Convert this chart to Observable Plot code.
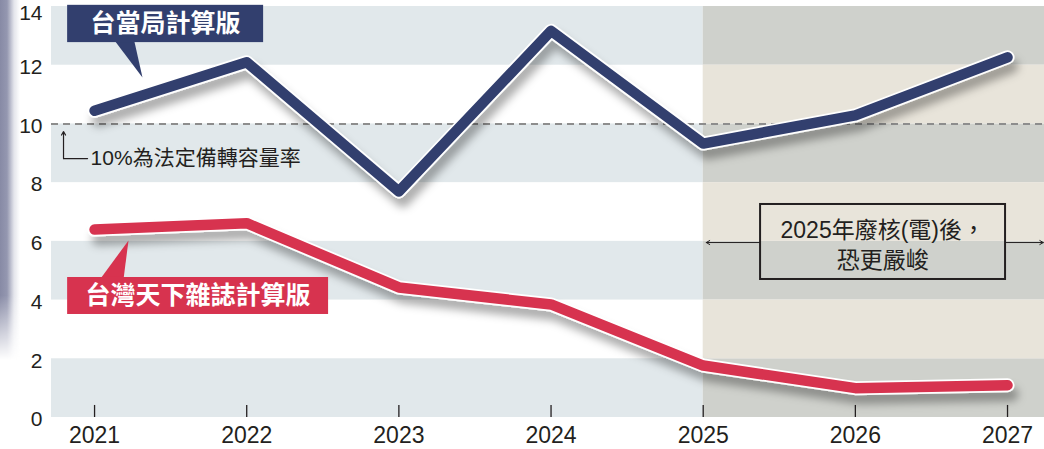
<!DOCTYPE html>
<html>
<head>
<meta charset="utf-8">
<script src="https://cdn.jsdelivr.net/npm/d3@7"></script>
<script src="https://cdn.jsdelivr.net/npm/@observablehq/plot@0.6"></script>
<style>
  html, body { margin: 0; padding: 0; background: #fff; }
  #wrap { position: relative; width: 1044px; height: 449px; overflow: hidden; }
  #edge {
    position: absolute; left: 0; top: 0; width: 20px; height: 360px; pointer-events: none;
    background: linear-gradient(to right, #878aa5 0%, #9497b0 35%, rgba(200,202,215,0.5) 70%, rgba(255,255,255,0) 100%);
    -webkit-mask-image: linear-gradient(to bottom, #000 0%, #000 82%, transparent 100%);
    mask-image: linear-gradient(to bottom, #000 0%, #000 82%, transparent 100%);
  }
  #chart svg { display: block; }
</style>
</head>
<body>
<div id="wrap"><div id="chart"></div><div id="edge"></div></div>
<script>
// ---- data ----
const years = [2021, 2022, 2023, 2024, 2025, 2026, 2027];
const officialValues = [10.45, 12.1, 7.7, 13.17, 9.33, 10.29, 12.27];   // 台當局計算版
const magazineValues = [6.40, 6.62, 4.43, 3.85, 1.77, 1.0, 1.1];      // 台灣天下雜誌計算版
const yTicks = [0, 2, 4, 6, 8, 10, 12, 14];
const grayBands = [[0, 2], [4, 6], [8, 10], [12, 14]];
const whiteBands = [[2, 4], [6, 8], [10, 12]];
const reserveRate = 10;
const shadeStart = 2025;
const officialLabel = "台當局計算版";
const magazineLabel = "台灣天下雜誌計算版";
const reserveNote = "10%為法定備轉容量率";
const shadeNote = "2025年廢核(電)後，\n恐更嚴峻";

// ---- table for the library ----
const table = years.map((year, i) => ({ year, official: officialValues[i], magazine: magazineValues[i] }));
const xDomain = [2020.717, 2027.243];
const numFont = "'Liberation Sans',Arial,sans-serif";
const cjkFont = "'Liberation Sans','Noto Sans CJK TC',sans-serif";
const ink = "#231f20";
const blue = "#323f6e", red = "#d7334f";

const lineBase = { x: "year", strokeLinecap: "round", strokeLinejoin: "round" };

const chart = Plot.plot({
  width: 1044,
  height: 449,
  marginLeft: 51,
  marginRight: 0,
  marginTop: 6,
  marginBottom: 32,
  x: { domain: xDomain, axis: null },
  y: { domain: [0, 14], axis: null },
  style: { fontFamily: cjkFont, background: "transparent", color: ink },
  marks: [
    // background bands
    Plot.rect(grayBands, { x1: xDomain[0], x2: shadeStart, y1: d => d[0], y2: d => d[1], fill: "#e1e8eb" }),
    Plot.rect(grayBands, { x1: shadeStart, x2: xDomain[1], y1: d => d[0], y2: d => d[1], fill: "#cfd1cc" }),
    Plot.rect(whiteBands, { x1: shadeStart, x2: xDomain[1], y1: d => d[0], y2: d => d[1], fill: "#e8e4da" }),
    // reserve rule
    Plot.ruleY([reserveRate], { stroke: "#8d8d8d", strokeWidth: 2, strokeDasharray: "7,5" }),
    // inward x ticks
    Plot.ruleX(years, { y1: 0, y2: 0.41, stroke: ink, strokeWidth: 1.3 }),
    // axes
    Plot.axisY(yTicks.filter(t => t < 14), { tickSize: 0, tickPadding: 9, fontSize: 21, fontFamily: numFont, dy: 2, fill: ink }),
    Plot.axisY(yTicks.filter(t => t >= 14), { tickSize: 0, tickPadding: 9, fontSize: 21, fontFamily: numFont, dy: 7, fill: ink }),
    Plot.axisX(years, { tickSize: 0, tickPadding: 9, fontSize: 23, fontFamily: numFont, tickFormat: d => String(d), fill: ink }),
    // reserve note
    Plot.line([{ x: 2020.954, y: 8.82 }, { x: 2020.796, y: 8.82 }], { x: "x", y: "y", stroke: ink, strokeWidth: 1.2 }),
    Plot.arrow([{ x1: 2020.796, y1: 8.82, x2: 2020.796, y2: 9.74 }], { x1: "x1", y1: "y1", x2: "x2", y2: "y2", stroke: ink, strokeWidth: 1.2, headLength: 5 }),
    Plot.text([reserveNote], { x: 2020.974, y: 8.82, text: d => d, textAnchor: "start", fontSize: 21, fill: ink }),
    // shade note
    Plot.arrow([{ x1: 2025.377, y1: 5.96, x2: 2025.02, y2: 5.96 }, { x1: 2026.987, y1: 5.96, x2: 2027.235, y2: 5.96 }],
      { x1: "x1", y1: "y1", x2: "x2", y2: "y2", stroke: ink, strokeWidth: 1, headLength: 6 }),
    Plot.rect([{ x1: 2025.377, x2: 2026.987, y1: 4.701, y2: 7.256 }], { x1: "x1", x2: "x2", y1: "y1", y2: "y2", fill: "none", stroke: ink, strokeWidth: 2 }),
    Plot.text([shadeNote], { x: 2026.18, y: 5.93, text: d => d, fontSize: 23, lineHeight: 1.3, fill: ink }),
    // lines: white casing then colour
    Plot.line(table, { ...lineBase, y: "official", stroke: "#ffffff", strokeWidth: 14 }),
    Plot.line(table, { ...lineBase, y: "magazine", stroke: "#ffffff", strokeWidth: 14 }),
    Plot.line(table, { ...lineBase, y: "official", stroke: blue, strokeWidth: 10.5 }),
    Plot.line(table, { ...lineBase, y: "magazine", stroke: red, strokeWidth: 10.5 }),
    // series labels
    Plot.line([{ x: 2021.13, y: 12.85 }, { x: 2021.26, y: 12.85 }, { x: 2021.315, y: 11.58 }], { x: "x", y: "y", fill: blue, stroke: "none" }),
    Plot.rect([{ x1: 2020.823, x2: 2022.111, y1: 12.77, y2: 14.04 }], { x1: "x1", x2: "x2", y1: "y1", y2: "y2", fill: blue }),
    Plot.text([officialLabel], { x: 2021.467, y: 13.39, text: d => d, fill: "#fff", fontSize: 25, fontWeight: "bold", fontFamily: "'Noto Sans CJK TC',sans-serif" }),
    Plot.line([{ x: 2021.035, y: 4.7 }, { x: 2021.19, y: 4.7 }, { x: 2021.223, y: 6.03 }], { x: "x", y: "y", fill: red, stroke: "none" }),
    Plot.rect([{ x1: 2020.823, x2: 2022.538, y1: 3.509, y2: 4.769 }], { x1: "x1", x2: "x2", y1: "y1", y2: "y2", fill: red }),
    Plot.text([magazineLabel], { x: 2021.68, y: 4.14, text: d => d, fill: "#fff", fontSize: 25, fontWeight: "bold", fontFamily: "'Noto Sans CJK TC',sans-serif" })
  ]
});

// drop shadow under the line casings
const svg = d3.select(chart);
svg.insert("defs", ":first-child").append("filter")
  .attr("id", "lineShadow").attr("x", "-10%").attr("y", "-30%").attr("width", "130%").attr("height", "180%")
  .html('<feDropShadow dx="4" dy="9" stdDeviation="4" flood-color="#000" flood-opacity="0.32"/>');
svg.selectAll('g[aria-label="line"]').filter(function () { return this.getAttribute("stroke") === "#ffffff"; })
  .attr("filter", "url(#lineShadow)");

document.getElementById("chart").appendChild(chart);
</script>
</body>
</html>
